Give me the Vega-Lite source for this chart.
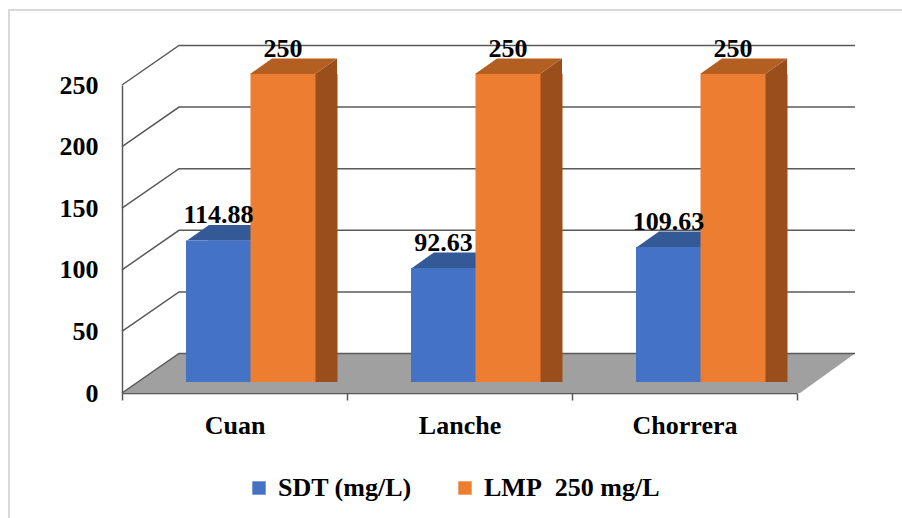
{
  "$schema": "https://vega.github.io/schema/vega-lite/v6.json",
  "width": 675,
  "height": 308,
  "autosize": "none",
  "padding": {"left": 122, "top": 85, "right": 105, "bottom": 125},
  "background": "white",
  "datasets": {
    "bars": [
      {"c": "Cuan", "s": "SDT (mg/L)", "v": 114.88},
      {"c": "Cuan", "s": "LMP\u00a0 250 mg/L", "v": 250},
      {"c": "Lanche", "s": "SDT (mg/L)", "v": 92.63},
      {"c": "Lanche", "s": "LMP\u00a0 250 mg/L", "v": 250},
      {"c": "Chorrera", "s": "SDT (mg/L)", "v": 109.63},
      {"c": "Chorrera", "s": "LMP\u00a0 250 mg/L", "v": 250}
    ],
    "grid": [
      {"c": "Cuan", "v": 0},
      {"c": "Cuan", "v": 50},
      {"c": "Cuan", "v": 100},
      {"c": "Cuan", "v": 150},
      {"c": "Cuan", "v": 200},
      {"c": "Cuan", "v": 250}
    ],
    "floor": [{"c": "Cuan", "v": 0}],
    "frame": [{"c": "Cuan", "v": 250}]
  },
  "config": {
    "view": {"stroke": null},
    "font": "Times New Roman, Liberation Serif, DejaVu Serif, serif",
    "axis": {
      "labelFont": "Times New Roman, Liberation Serif, DejaVu Serif, serif",
      "labelFontSize": 26,
      "labelFontWeight": "bold",
      "labelColor": "#000000",
      "domainColor": "#595959",
      "domainWidth": 1.5,
      "tickColor": "#595959",
      "tickWidth": 1.5,
      "grid": false
    },
    "legend": {
      "orient": "none",
      "legendX": 124,
      "legendY": 390,
      "direction": "horizontal",
      "symbolType": "square",
      "symbolSize": 180,
      "symbolStrokeWidth": 0,
      "labelFont": "Times New Roman, Liberation Serif, DejaVu Serif, serif",
      "labelFontSize": 26,
      "labelFontWeight": "bold",
      "labelColor": "#000000",
      "labelLimit": 400,
      "labelOffset": 6,
      "columnPadding": 40
    }
  },
  "encoding": {
    "x": {"field": "c", "type": "nominal", "scale": {"type": "band", "domain": ["Cuan", "Lanche", "Chorrera"], "paddingInner": 0, "paddingOuter": 0}, "title": null, "axis": {"tickBand": "extent", "tickSize": 7, "labelPadding": 12, "labelAngle": 0}},
    "y": {"field": "v", "type": "quantitative", "scale": {"domain": [0, 250], "nice": false}, "title": null, "axis": {"values": [0, 50, 100, 150, 200, 250], "ticks": false, "labelPadding": 24}}
  },
  "layer": [
    {
      "data": {"name": "frame"},
      "mark": {"type": "point", "shape": "M-113,440L-113,-75L790,-75", "size": 4, "filled": false, "stroke": "#D9D9D9", "strokeWidth": 2, "opacity": 1},
      "encoding": {
        "x": {"field": "c", "type": "nominal", "bandPosition": 0, "scale": {"type": "band", "domain": ["Cuan", "Lanche", "Chorrera"], "paddingInner": 0, "paddingOuter": 0}, "title": null, "axis": {"tickBand": "extent", "tickSize": 7, "labelPadding": 12, "labelAngle": 0}}
      }
    },
    {
      "data": {"name": "floor"},
      "mark": {"type": "point", "shape": "M0,0L57,-39.5L733,-39.5L678,0Z", "size": 4, "filled": true, "fill": "#A0A0A0", "strokeWidth": 0, "opacity": 1},
      "encoding": {
        "x": {"field": "c", "type": "nominal", "bandPosition": 0, "scale": {"type": "band", "domain": ["Cuan", "Lanche", "Chorrera"], "paddingInner": 0, "paddingOuter": 0}, "title": null, "axis": {"tickBand": "extent", "tickSize": 7, "labelPadding": 12, "labelAngle": 0}}
      }
    },
    {
      "data": {"name": "grid"},
      "mark": {"type": "point", "shape": "M0,0L57,-39.5L733,-39.5", "size": 4, "filled": false, "stroke": "#595959", "strokeWidth": 1.5, "opacity": 1},
      "encoding": {
        "x": {"field": "c", "type": "nominal", "bandPosition": 0, "scale": {"type": "band", "domain": ["Cuan", "Lanche", "Chorrera"], "paddingInner": 0, "paddingOuter": 0}, "title": null, "axis": {"tickBand": "extent", "tickSize": 7, "labelPadding": 12, "labelAngle": 0}}
      }
    },
    {
      "data": {"name": "bars"},
      "transform": [{"filter": "datum.s === 'SDT (mg/L)'"}],
      "layer": [
        {"mark": {"type": "bar", "width": {"band": 0.2889}, "xOffset": 6, "yOffset": -11, "y2Offset": -26.5, "fill": "#2F528F"}},
        {"mark": {"type": "point", "shape": "M65,0L87,-15.5L87,0Z", "size": 4, "filled": true, "fill": "#2F528F", "strokeWidth": 0, "opacity": 1, "xOffset": -47.5, "yOffset": -11}},
        {"mark": {"type": "point", "shape": "M65,-15.5L87,-15.5L65,0Z", "size": 4, "filled": true, "fill": "#2F528F", "strokeWidth": 0, "opacity": 1, "xOffset": -47.5, "yOffset": -11},
         "encoding": {"y": {"datum": 0, "type": "quantitative"}}},
        {"mark": {"type": "point", "shape": "M0,0L65,0L87,-15.5L22,-15.5Z", "size": 4, "filled": true, "fill": "#335A96", "strokeWidth": 0, "opacity": 1, "xOffset": -47.5, "yOffset": -11}},
        {"mark": {"type": "bar", "width": {"band": 0.2889}, "xOffset": -16, "yOffset": -11, "y2Offset": -11},
         "encoding": {"color": {"field": "s", "type": "nominal", "scale": {"domain": ["SDT (mg/L)", "LMP\u00a0 250 mg/L"], "range": ["#4472C4", "#ED7D31"]}, "legend": {"title": null}}}}
      ]
    },
    {
      "data": {"name": "bars"},
      "transform": [{"filter": "datum.s !== 'SDT (mg/L)'"}],
      "layer": [
        {"mark": {"type": "bar", "width": {"band": 0.2889}, "xOffset": 70.5, "yOffset": -11, "y2Offset": -26.5, "fill": "#9A4E1C"}},
        {"mark": {"type": "point", "shape": "M65,0L87,-15.5L87,0Z", "size": 4, "filled": true, "fill": "#9A4E1C", "strokeWidth": 0, "opacity": 1, "xOffset": 15.5, "yOffset": -11}},
        {"mark": {"type": "point", "shape": "M65,-15.5L87,-15.5L65,0Z", "size": 4, "filled": true, "fill": "#9A4E1C", "strokeWidth": 0, "opacity": 1, "xOffset": 15.5, "yOffset": -11},
         "encoding": {"y": {"datum": 0, "type": "quantitative"}}},
        {"mark": {"type": "point", "shape": "M0,0L65,0L87,-15.5L22,-15.5Z", "size": 4, "filled": true, "fill": "#B45F22", "strokeWidth": 0, "opacity": 1, "xOffset": 15.5, "yOffset": -11}},
        {"mark": {"type": "bar", "width": {"band": 0.2889}, "xOffset": 48.5, "yOffset": -11, "y2Offset": -11},
         "encoding": {"color": {"field": "s", "type": "nominal", "scale": {"domain": ["SDT (mg/L)", "LMP\u00a0 250 mg/L"], "range": ["#4472C4", "#ED7D31"]}, "legend": {"title": null}}}}
      ]
    },
    {
      "data": {"name": "bars"},
      "transform": [{"filter": "datum.s === 'SDT (mg/L)'"}],
      "mark": {"type": "text", "xOffset": -16, "yOffset": -28, "baseline": "alphabetic", "align": "center", "font": "Times New Roman, Liberation Serif, DejaVu Serif, serif", "fontSize": 26, "fontWeight": "bold", "color": "#000000"},
      "encoding": {"text": {"field": "v", "type": "quantitative"}}
    },
    {
      "data": {"name": "bars"},
      "transform": [{"filter": "datum.s !== 'SDT (mg/L)'"}],
      "mark": {"type": "text", "xOffset": 48.5, "yOffset": -28, "baseline": "alphabetic", "align": "center", "font": "Times New Roman, Liberation Serif, DejaVu Serif, serif", "fontSize": 26, "fontWeight": "bold", "color": "#000000"},
      "encoding": {"text": {"field": "v", "type": "quantitative"}}
    }
  ]
}
